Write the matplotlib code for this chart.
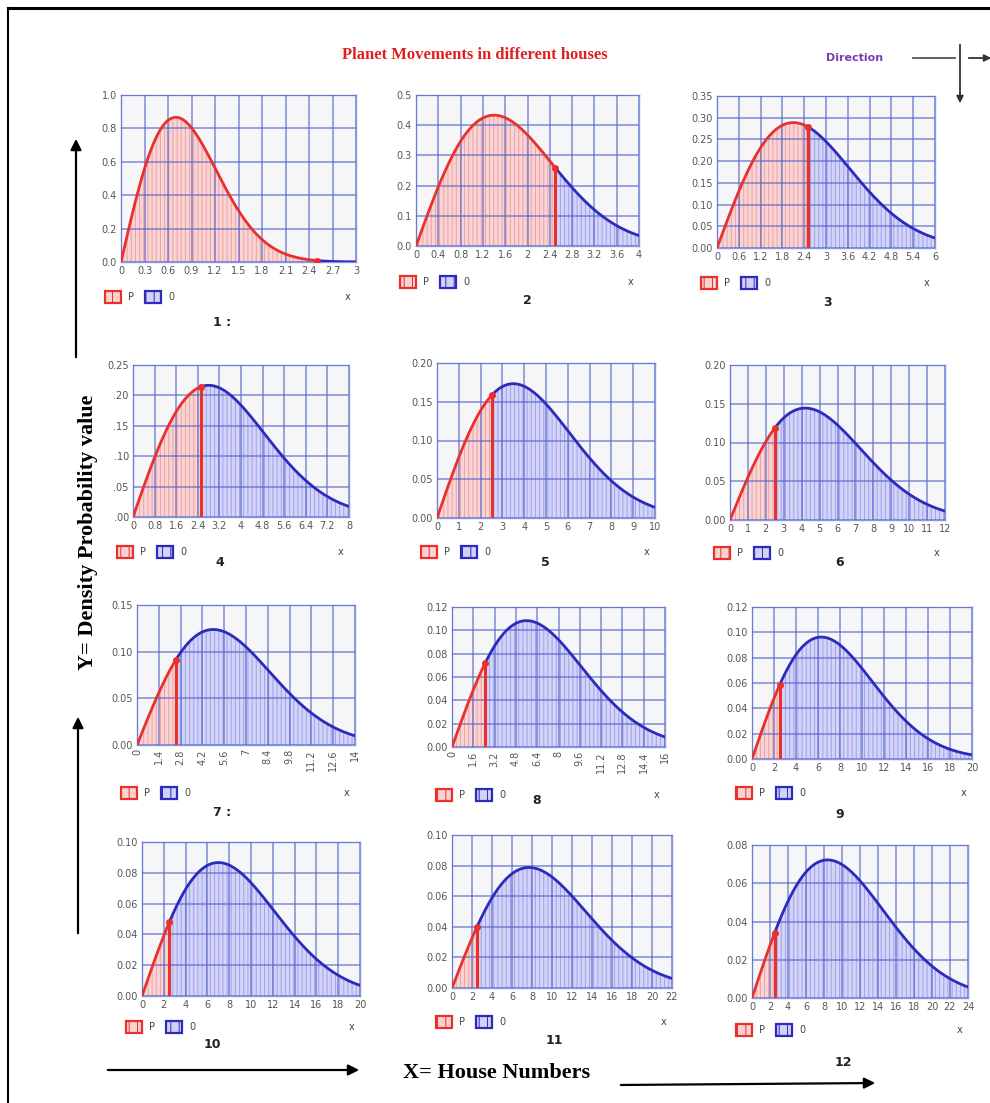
import numpy as np
import matplotlib
matplotlib.use("Agg")
import matplotlib.pyplot as plt
from matplotlib.patches import Rectangle, FancyArrowPatch
from matplotlib.lines import Line2D

W, H = 990, 1103
plt.rcParams['hatch.linewidth'] = 0.7

# ---------------- data ----------------
panel_labels = ["1 :", "2", "3", "4", "5", "6", "7 :", "8", "9", "10", "11", "12"]
x_max = [3, 4, 6, 8, 10, 12, 14, 16, 20, 20, 22, 24]
y_max = [1.0, 0.5, 0.35, 0.25, 0.20, 0.20, 0.15, 0.12, 0.12, 0.10, 0.10, 0.08]
# location of the peak of each density curve
peak_x = [0.7, 1.4, 2.1, 2.8, 3.5, 4.2, 4.9, 5.6, 6.3, 7.0, 7.7, 8.4]
# boundary between P (red) and O (blue) region
split_x = [2.5, 2.5, 2.5, 2.5, 2.5, 2.5, 2.5, 2.5, 2.5, 2.5, 2.5, 2.5]

x_tick_labels = [
    ["0", "0.3", "0.6", "0.9", "1.2", "1.5", "1.8", "2.1", "2.4", "2.7", "3"],
    ["0", "0.4", "0.8", "1.2", "1.6", "2", "2.4", "2.8", "3.2", "3.6", "4"],
    ["0", "0.6", "1.2", "1.8", "2.4", "3", "3.6", "4.2", "4.8", "5.4", "6"],
    ["0", "0.8", "1.6", "2.4", "3.2", "4", "4.8", "5.6", "6.4", "7.2", "8"],
    ["0", "1", "2", "3", "4", "5", "6", "7", "8", "9", "10"],
    ["0", "1", "2", "3", "4", "5", "6", "7", "8", "9", "10", "11", "12"],
    ["0", "1.4", "2.8", "4.2", "5.6", "7", "8.4", "9.8", "11.2", "12.6", "14"],
    ["0", "1.6", "3.2", "4.8", "6.4", "8", "9.6", "11.2", "12.8", "14.4", "16"],
    ["0", "2", "4", "6", "8", "10", "12", "14", "16", "18", "20"],
    ["0", "2", "4", "6", "8", "10", "12", "14", "16", "18", "20"],
    ["0", "2", "4", "6", "8", "10", "12", "14", "16", "18", "20", "22"],
    ["0", "2", "4", "6", "8", "10", "12", "14", "16", "18", "20", "22", "24"],
]
y_tick_labels = [
    ["0.0", "0.2", "0.4", "0.6", "0.8", "1.0"],
    ["0.0", "0.1", "0.2", "0.3", "0.4", "0.5"],
    ["0.00", "0.05", "0.10", "0.15", "0.20", "0.25", "0.30", "0.35"],
    [".00", ".05", ".10", ".15", ".20", "0.25"],
    ["0.00", "0.05", "0.10", "0.15", "0.20"],
    ["0.00", "0.05", "0.10", "0.15", "0.20"],
    ["0.00", "0.05", "0.10", "0.15"],
    ["0.00", "0.02", "0.04", "0.06", "0.08", "0.10", "0.12"],
    ["0.00", "0.02", "0.04", "0.06", "0.08", "0.10", "0.12"],
    ["0.00", "0.02", "0.04", "0.06", "0.08", "0.10"],
    ["0.00", "0.02", "0.04", "0.06", "0.08", "0.10"],
    ["0.00", "0.02", "0.04", "0.06", "0.08"],
]
rotated_x = [False] * 6 + [True, True] + [False] * 4

# ---------------- layout (pixels: left, top, right, bottom) ----------------
boxes = [
    (121, 95, 356, 262), (416, 95, 639, 246), (717, 96, 935, 248),
    (133, 365, 349, 517), (437, 363, 655, 518), (730, 365, 945, 520),
    (137, 605, 355, 745), (452, 607, 665, 747), (752, 607, 972, 759),
    (142, 842, 360, 996), (452, 835, 672, 988), (752, 845, 968, 998),
]
legend_y = [297, 282, 283, 552, 552, 553, 793, 795, 793, 1027, 1022, 1030]
label_pos = [(222, 322), (527, 300), (827, 303), (220, 562), (545, 562), (840, 563),
             (222, 812), (537, 800), (840, 815), (212, 1045), (554, 1040), (843, 1062)]

RED = "#e8302c"
BLUE = "#2b2bbd"
GRID = "#5566cc"


def fx(px):
    return px / W


def fy(py):
    return 1 - py / H


fig = plt.figure(figsize=(W / 100, H / 100), dpi=100)
fig.patch.set_facecolor("white")


def rayleigh(x, s):
    return x / s ** 2 * np.exp(-x ** 2 / (2 * s ** 2))


for i in range(12):
    l, t, r, b = boxes[i]
    ax = fig.add_axes([fx(l), fy(b), (r - l) / W, (b - t) / H])
    ax.set_facecolor("#f6f6f8")
    xm = x_max[i]
    s = peak_x[i]
    sp = split_x[i]
    xr = np.linspace(0, sp, 200)
    xb = np.linspace(sp, xm, 400)
    yr = rayleigh(xr, s)
    yb = rayleigh(xb, s)
    ax.fill_between(xr, 0, yr, facecolor="#f9d4d4", edgecolor="#eea0a0",
                    hatch="||||", linewidth=0.0, zorder=2)
    ax.fill_between(xb, 0, yb, facecolor="#d4d4f7", edgecolor="#a0a0ee",
                    hatch="||||", linewidth=0.0, zorder=2)
    ax.plot(xr, yr, color=RED, lw=2, zorder=4, solid_capstyle="round")
    ax.plot(xb, yb, color=BLUE, lw=2, zorder=4, solid_capstyle="round")
    ys = rayleigh(sp, s)
    ax.plot([sp, sp], [0, ys], color=RED, lw=2.2, zorder=5)
    ax.plot([sp], [ys], marker="o", ms=4, color=RED, zorder=6)

    xt = np.linspace(0, xm, len(x_tick_labels[i]))
    yt = np.linspace(0, y_max[i], len(y_tick_labels[i]))
    ax.set_xticks(xt)
    ax.set_yticks(yt)
    ax.set_xticklabels(x_tick_labels[i], fontsize=7, color="#555555",
                       rotation=90 if rotated_x[i] else 0)
    ax.set_yticklabels(y_tick_labels[i], fontsize=7, color="#555555")
    ax.tick_params(length=0, pad=3)
    ax.set_xlim(0, xm)
    ax.set_ylim(0, y_max[i])
    ax.grid(True, color=GRID, lw=1.1, alpha=0.75, zorder=3)
    ax.set_axisbelow(False)
    for sp_ in ax.spines.values():
        sp_.set_color("#8796dd")
        sp_.set_linewidth(1)

    # legend-like boxes below
    ly = legend_y[i]
    bx = l - 16
    for k, (fc, ec, txt) in enumerate([("#f9d2d2", RED, "P"), ("#d2d2f6", BLUE, "0")]):
        x0 = bx + k * 40
        rect = Rectangle((fx(x0), fy(ly + 6)), 16 / W, 12 / H, transform=fig.transFigure,
                         facecolor=fc, edgecolor=ec, lw=1.6, hatch="||")
        fig.add_artist(rect)
        fig.text(fx(x0 + 23), fy(ly), txt, fontsize=7, color="#444444",
                 ha="left", va="center")
    fig.text(fx(r - 8), fy(ly), "x", fontsize=7, color="#444444", ha="center", va="center")
    lx, lyy = label_pos[i]
    fig.text(fx(lx), fy(lyy), panel_labels[i], fontsize=9, fontweight="bold",
             color="#222222", ha="center", va="center")

# title & annotations
fig.text(fx(475), fy(55), "Planet Movements in different houses", fontsize=12,
         fontweight="bold", color="#e02020", family="Liberation Serif",
         ha="center", va="center")
fig.text(fx(855), fy(58), "Direction", fontsize=8, fontweight="bold", color="#7a3db0",
         ha="center", va="center")
fig.text(fx(88), fy(532), "Y= Density Probability value", rotation=90, fontsize=16,
         fontweight="bold", family="Liberation Serif", ha="center", va="center")
fig.text(fx(497), fy(1073), "X= House Numbers", fontsize=16, fontweight="bold",
         family="Liberation Serif", ha="center", va="center")

# frame lines
fig.add_artist(Line2D([fx(8), fx(990)], [fy(8), fy(8)], color="black", lw=2.2,
                      transform=fig.transFigure))
fig.add_artist(Line2D([fx(8), fx(8)], [fy(8), fy(1103)], color="black", lw=1.5,
                      transform=fig.transFigure))

# direction symbol
fig.add_artist(Line2D([fx(913), fx(955)], [fy(58), fy(58)], color="#555555", lw=1.3,
                      transform=fig.transFigure))
fig.add_artist(FancyArrowPatch((fx(960), fy(42)), (fx(960), fy(106)),
                               transform=fig.transFigure, arrowstyle="-|>",
                               mutation_scale=10, lw=1.3, color="#333333"))
fig.add_artist(FancyArrowPatch((fx(966), fy(58)), (fx(994), fy(58)),
                               transform=fig.transFigure, arrowstyle="-|>",
                               mutation_scale=10, lw=1.3, color="#333333"))


def arrow(p0, p1):
    fig.add_artist(FancyArrowPatch((fx(p0[0]), fy(p0[1])), (fx(p1[0]), fy(p1[1])),
                                   transform=fig.transFigure, arrowstyle="-|>",
                                   mutation_scale=16, lw=1.6, color="black"))


arrow((76, 360), (76, 136))
arrow((78, 936), (78, 714))
arrow((105, 1070), (362, 1070))
arrow((618, 1085), (878, 1083))

fig.savefig("out.png", dpi=100)
